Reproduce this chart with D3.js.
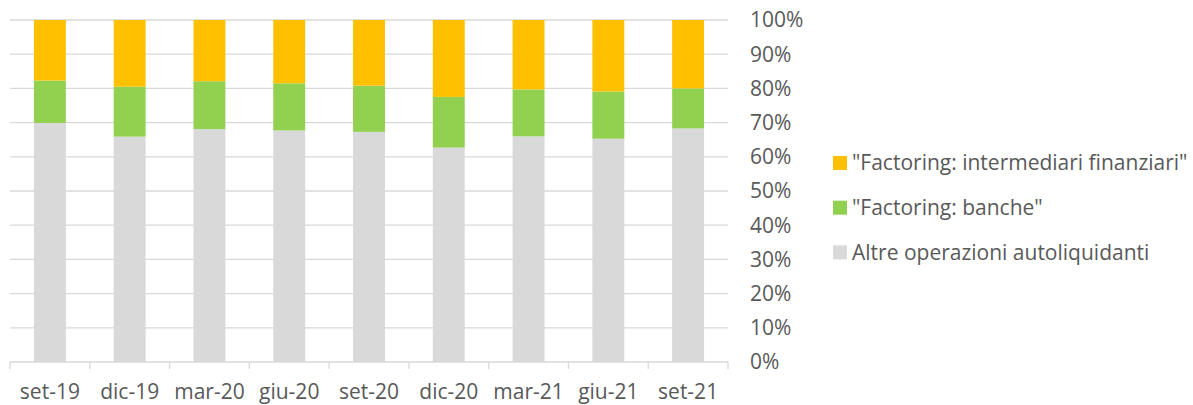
<!DOCTYPE html>
<html lang="it">
<head>
<meta charset="UTF-8">
<title>Factoring</title>
<style>
body { margin: 0; background: #fff; }
svg text { font-family: "Open Sans", sans-serif; fill: #595959; }
.grid line { stroke: #d9d9d9; stroke-width: 1.3px; }
</style>
</head>
<body>
<div id="chart"></div>
<script src="https://cdnjs.cloudflare.com/ajax/libs/d3/7.8.5/d3.min.js"></script>
<script>

// data (percent shares)
const periods = ["set-19", "dic-19", "mar-20", "giu-20", "set-20", "dic-20", "mar-21", "giu-21", "set-21"];
const altre = [69.9, 65.9, 68.1, 67.7, 67.3, 62.7, 66.0, 65.3, 68.3];
const banche = [12.4, 14.6, 14.0, 13.8, 13.5, 14.8, 13.7, 13.8, 11.7];
const intermediari = [17.7, 19.5, 17.9, 18.5, 19.2, 22.5, 20.3, 20.9, 20.0];
const yTicks = [0, 10, 20, 30, 40, 50, 60, 70, 80, 90, 100];

const series = [
  { key: "altre", name: "Altre operazioni autoliquidanti", values: altre, color: "#d9d9d9" },
  { key: "banche", name: "\"Factoring: banche\"", values: banche, color: "#92d050" },
  { key: "interm", name: "\"Factoring: intermediari finanziari\"", values: intermediari, color: "#ffc000" }
];

const width = 1193, height = 405;
const margin = { top: 20, left: 10, right: 465, bottom: 43 };
const plotW = width - margin.left - margin.right;
const plotH = height - margin.top - margin.bottom;
const fontSize = "21px";

const svg = d3.select("#chart").append("svg")
  .attr("width", width)
  .attr("height", height);

const g = svg.append("g")
  .attr("transform", "translate(" + margin.left + "," + margin.top + ")");

const x = d3.scaleBand().domain(periods).range([0, plotW]);
const y = d3.scaleLinear().domain([0, 100]).range([plotH, 0]);

// gridlines
g.append("g").attr("class", "grid")
  .selectAll("line")
  .data(yTicks.slice(1))
  .join("line")
  .attr("x1", 0).attr("x2", plotW)
  .attr("y1", d => y(d)).attr("y2", d => y(d));

// stacked bars
const rows = periods.map((p, i) => {
  const r = { period: p };
  series.forEach(s => { r[s.key] = s.values[i]; });
  return r;
});
const stacked = d3.stack().keys(series.map(s => s.key))(rows);
const barW = x.bandwidth() * 0.4;

g.append("g").selectAll("g")
  .data(stacked)
  .join("g")
  .attr("fill", (d, i) => series[i].color)
  .selectAll("rect")
  .data(d => d)
  .join("rect")
  .attr("x", d => x(d.data.period) + (x.bandwidth() - barW) / 2)
  .attr("width", barW)
  .attr("y", d => y(d[1]))
  .attr("height", d => y(d[0]) - y(d[1]));

// x axis
const xAxis = g.append("g")
  .attr("transform", "translate(0," + plotH + ")");
xAxis.append("line")
  .attr("x1", 0).attr("x2", plotW)
  .attr("stroke", "#d9d9d9").attr("stroke-width", 1.3);
xAxis.selectAll("line.tick")
  .data(periods.map(p => x(p)).concat([plotW]))
  .join("line")
  .attr("class", "tick")
  .attr("x1", d => d).attr("x2", d => d)
  .attr("y1", 0).attr("y2", 7)
  .attr("stroke", "#d9d9d9").attr("stroke-width", 1.3);
xAxis.selectAll("text")
  .data(periods)
  .join("text")
  .attr("x", d => x(d) + x.bandwidth() / 2)
  .attr("y", 30)
  .attr("dy", "0.35em")
  .attr("text-anchor", "middle")
  .style("font-size", fontSize)
  .text(d => d);

// y axis labels on the right
g.append("g")
  .selectAll("text")
  .data(yTicks)
  .join("text")
  .attr("x", 740)
  .attr("y", d => y(d))
  .attr("dy", "0.35em")
  .style("font-size", fontSize)
  .text(d => d + "%");

// legend
const legend = svg.append("g")
  .attr("transform", "translate(833,163)");
const items = series.slice().reverse();
const li = legend.selectAll("g")
  .data(items)
  .join("g")
  .attr("transform", (d, i) => "translate(0," + (i * 44.7) + ")");
li.append("rect")
  .attr("x", 0).attr("y", -7)
  .attr("width", 14).attr("height", 14)
  .attr("fill", d => d.color);
li.append("text")
  .attr("x", 19)
  .attr("y", 0)
  .attr("dy", "0.35em")
  .style("font-size", fontSize)
  .text(d => d.name);

</script>
</body>
</html>
